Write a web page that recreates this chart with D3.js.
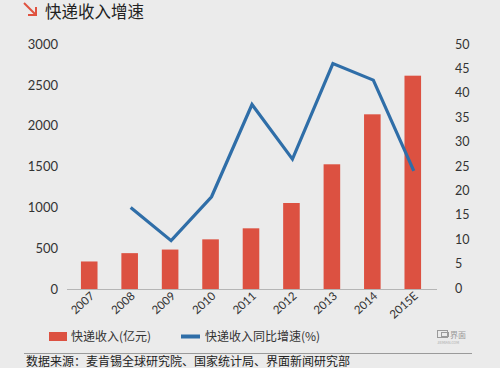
<!DOCTYPE html>
<html><head><meta charset="utf-8">
<script src="https://cdn.jsdelivr.net/npm/d3@7"></script>
<style>
html,body{margin:0;padding:0;background:#ebebeb;}
svg{display:block;font-family:"Noto Sans CJK SC","Noto Sans",sans-serif;}
</style></head>
<body>
<svg id="c" width="500" height="368"></svg>
<script>
const categories = ["2007","2008","2009","2010","2011","2012","2013","2014","2015E"];
const revenue = [337, 439, 483, 608, 743, 1053, 1527, 2139, 2612];
const growth = [null, 16.5, 9.7, 18.7, 37.6, 26.4, 46.0, 42.6, 24.0];
const leftTicks = [0,500,1000,1500,2000,2500,3000];
const rightTicks = [0,5,10,15,20,25,30,35,40,45,50];
const title = "快递收入增速";
const legendLabels = ["快递收入(亿元)", "快递收入同比增速(%)"];
const source = "数据来源：麦肯锡全球研究院、国家统计局、界面新闻研究部";

const svg = d3.select("#c");
svg.append("rect").attr("width",500).attr("height",368).attr("fill","#ebebeb");

const x = d3.scaleBand().domain(categories).range([69,433]).paddingInner(0.59).paddingOuter(0.295);
const yL = d3.scaleLinear().domain([0,3000]).range([289,44]);
const yR = d3.scaleLinear().domain([0,50]).range([288,44]);

// title
const ar = svg.append("g").attr("stroke","#e0523f").attr("stroke-width",2).attr("fill","none");
ar.append("path").attr("d","M24,3 L36,15");
ar.append("path").attr("d","M36,7 L36,15 L28,15");
svg.append("text").attr("x",45).attr("y",18).attr("font-size",16.5).attr("fill","#222").text(title);

// left axis
const gl = svg.append("g").attr("transform","translate(58,0)")
  .call(d3.axisLeft(yL).tickValues(leftTicks).tickFormat(d3.format("d")).tickSize(0).tickPadding(0));
gl.select(".domain").remove();
gl.selectAll("text").attr("font-size",13).attr("fill","#333").attr("font-family","Lato,'Noto Sans',sans-serif");

// right axis
const gr = svg.append("g").attr("transform","translate(455,0)")
  .call(d3.axisRight(yR).tickValues(rightTicks).tickFormat(d3.format("d")).tickSize(0).tickPadding(0));
gr.select(".domain").remove();
gr.selectAll("text").attr("font-size",12.5).attr("fill","#333").attr("font-family","Lato,'Noto Sans',sans-serif");

// bars
svg.append("g").selectAll("rect").data(categories).join("rect")
  .attr("x",d=>x(d)).attr("width",x.bandwidth())
  .attr("y",(d,i)=>yL(revenue[i])).attr("height",(d,i)=>yL(0)-yL(revenue[i]))
  .attr("fill","#dc5141");

// baseline
svg.append("line").attr("x1",67).attr("x2",437).attr("y1",289.5).attr("y2",289.5).attr("stroke","#b5b5b5").attr("stroke-width",1);

// line
const pts = categories.map((c,i)=>({c,v:growth[i]})).filter(d=>d.v!=null);
svg.append("path").datum(pts)
  .attr("d", d3.line().x(d=>x(d.c)+x.bandwidth()/2+1).y(d=>yR(d.v)))
  .attr("fill","none").attr("stroke","#2f6ea8").attr("stroke-width",3.2).attr("stroke-linejoin","miter");

// x labels
const gx = svg.append("g");
categories.forEach(c=>{
  const cx = x(c)+x.bandwidth()/2+6;
  gx.append("text").attr("transform",`translate(${cx},297) rotate(-42)`)
    .attr("text-anchor","end").attr("font-size",11.5).attr("fill","#333")
    .attr("font-family","Lato,'Noto Sans',sans-serif").text(c);
});

// legend
svg.append("rect").attr("x",49).attr("y",332).attr("width",18).attr("height",9).attr("fill","#dc5141");
svg.append("text").attr("x",71).attr("y",341).attr("font-size",12).attr("fill","#333").text(legendLabels[0]);
svg.append("line").attr("x1",181).attr("x2",200).attr("y1",336.5).attr("y2",336.5).attr("stroke","#2f6ea8").attr("stroke-width",4);
svg.append("text").attr("x",205).attr("y",341).attr("font-size",12).attr("fill","#333").text(legendLabels[1]);

// logo
const lg = svg.append("g").attr("fill","none").attr("stroke","#9a9a9a").attr("stroke-width",1);
lg.append("rect").attr("x",437.5).attr("y",330.5).attr("width",10).attr("height",7);
lg.append("rect").attr("x",441.5).attr("y",332.5).attr("width",7).attr("height",4);
svg.append("text").attr("x",450).attr("y",338).attr("font-size",8).attr("fill","#9a9a9a").text("界面");
svg.append("text").attr("x",437).attr("y",344).attr("font-size",3.5).attr("fill","#aaa").text("JIEMIAN.COM");

// separator & source
svg.append("line").attr("x1",24).attr("x2",472).attr("y1",353.5).attr("y2",353.5).attr("stroke","#9a9a9a").attr("stroke-width",1);
svg.append("text").attr("x",26).attr("y",366).attr("font-size",12).attr("fill","#222").text(source);
</script>
</body></html>
